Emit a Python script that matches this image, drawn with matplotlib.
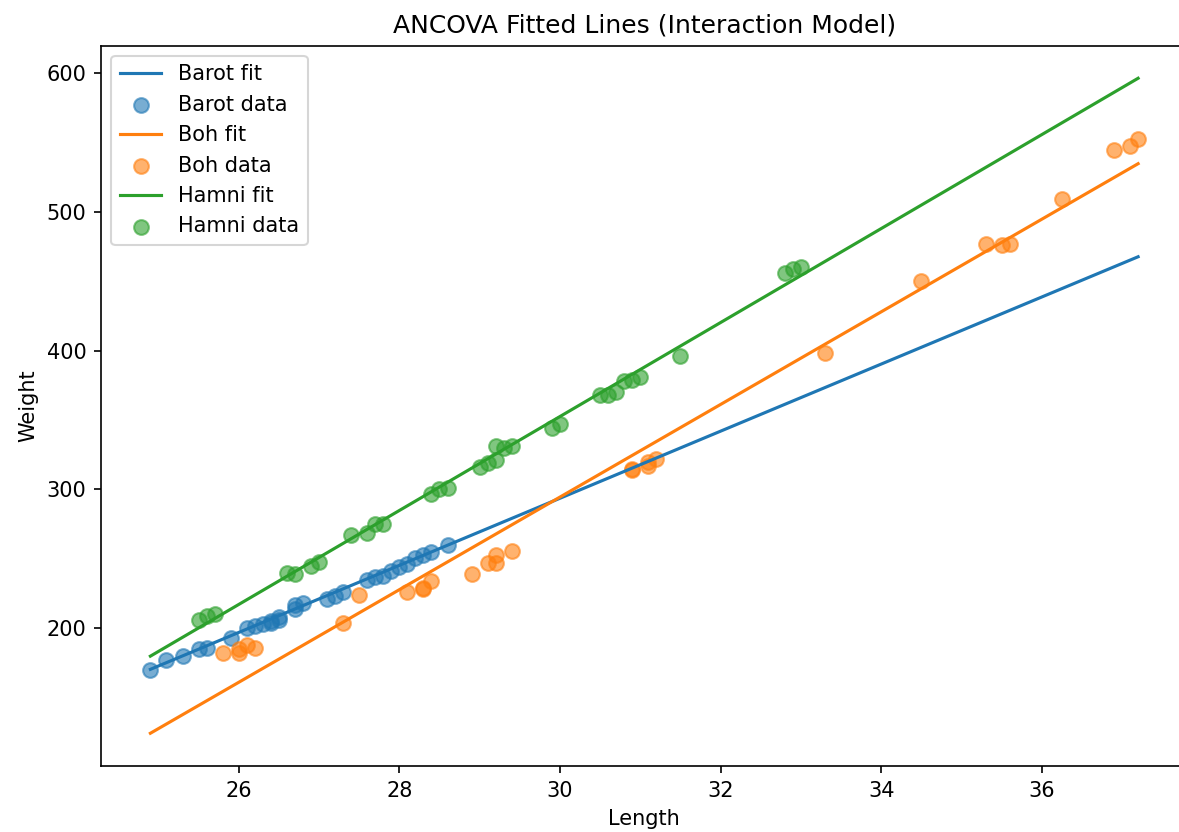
import matplotlib
matplotlib.use("Agg")
import matplotlib.pyplot as plt

# Barot data
barot_len = [24.9, 25.1, 25.3, 25.5, 25.6, 25.9, 26.1, 26.2, 26.3, 26.4, 26.4, 26.5, 26.5,
             26.7, 26.7, 26.8, 27.1, 27.2, 27.3, 27.6, 27.7, 27.8, 27.9, 28.0, 28.1, 28.2,
             28.3, 28.4, 28.6]
barot_wt = [170, 177, 180, 185, 186, 193, 200, 202, 203, 204, 205, 206, 208,
            214, 217, 218, 221, 223, 226, 235, 237, 238, 241, 244, 246, 251,
            253, 255, 260]

# Boh data
boh_len = [25.8, 26.0, 26.0, 26.1, 26.2, 27.3, 27.5, 28.1, 28.3, 28.3, 28.4, 28.9, 29.1,
           29.2, 29.2, 29.4, 30.9, 30.9, 31.1, 31.1, 31.2, 33.3, 34.5, 35.3, 35.5, 35.6,
           36.25, 36.9, 37.1, 37.2]
boh_wt = [182, 182, 185, 188, 186, 204, 224, 226, 228, 229, 234, 239, 247,
          247, 253, 256, 314, 315, 317, 320, 322, 398, 450, 477, 476, 477,
          509, 544, 547, 552]

# Hamni data
hamni_len = [25.5, 25.6, 25.7, 26.6, 26.7, 26.9, 27.0, 27.4, 27.6, 27.7, 27.8, 28.4, 28.5,
             28.6, 29.0, 29.1, 29.2, 29.2, 29.3, 29.4, 29.9, 30.0, 30.5, 30.6, 30.7, 30.8,
             30.9, 31.0, 31.5, 32.8, 32.9, 33.0]
hamni_wt = [206, 209, 210, 240, 239, 245, 248, 267, 269, 275, 275, 297, 300,
            301, 316, 319, 321, 331, 330, 331, 344, 347, 368, 368, 370, 378,
            379, 381, 396, 456, 459, 460]

# Fitted lines (interaction model), evaluated over the Length range
fit_len = [24.9, 37.2]
barot_fit = [170.5, 467.5]
boh_fit = [124.5, 534.5]
hamni_fit = [180.0, 596.0]

species = ["Barot", "Boh", "Hamni"]
colors = ["#1f77b4", "#ff7f0e", "#2ca02c"]

W, H = 1179, 832
fig = plt.figure(figsize=(W / 150, H / 150), dpi=150)
ax = fig.add_axes([101 / W, (H - 766) / H, 1086.5 / W, 720.5 / H])

series = [(barot_len, barot_wt, barot_fit),
          (boh_len, boh_wt, boh_fit),
          (hamni_len, hamni_wt, hamni_fit)]
for name, col, (xs, ys, fy) in zip(species, colors, series):
    ax.plot(fit_len, fy, color=col, label=f"{name} fit")
    ax.scatter(xs, ys, color=col, alpha=0.6, s=50, label=f"{name} data")

ax.set_title("ANCOVA Fitted Lines (Interaction Model)")
ax.set_xlabel("Length")
ax.set_ylabel("Weight")
ax.set_yticks([200, 300, 400, 500, 600])
ax.spines["right"].set_visible(False)
ax.legend(loc="upper left")

fig.savefig("out.png", dpi=150)
